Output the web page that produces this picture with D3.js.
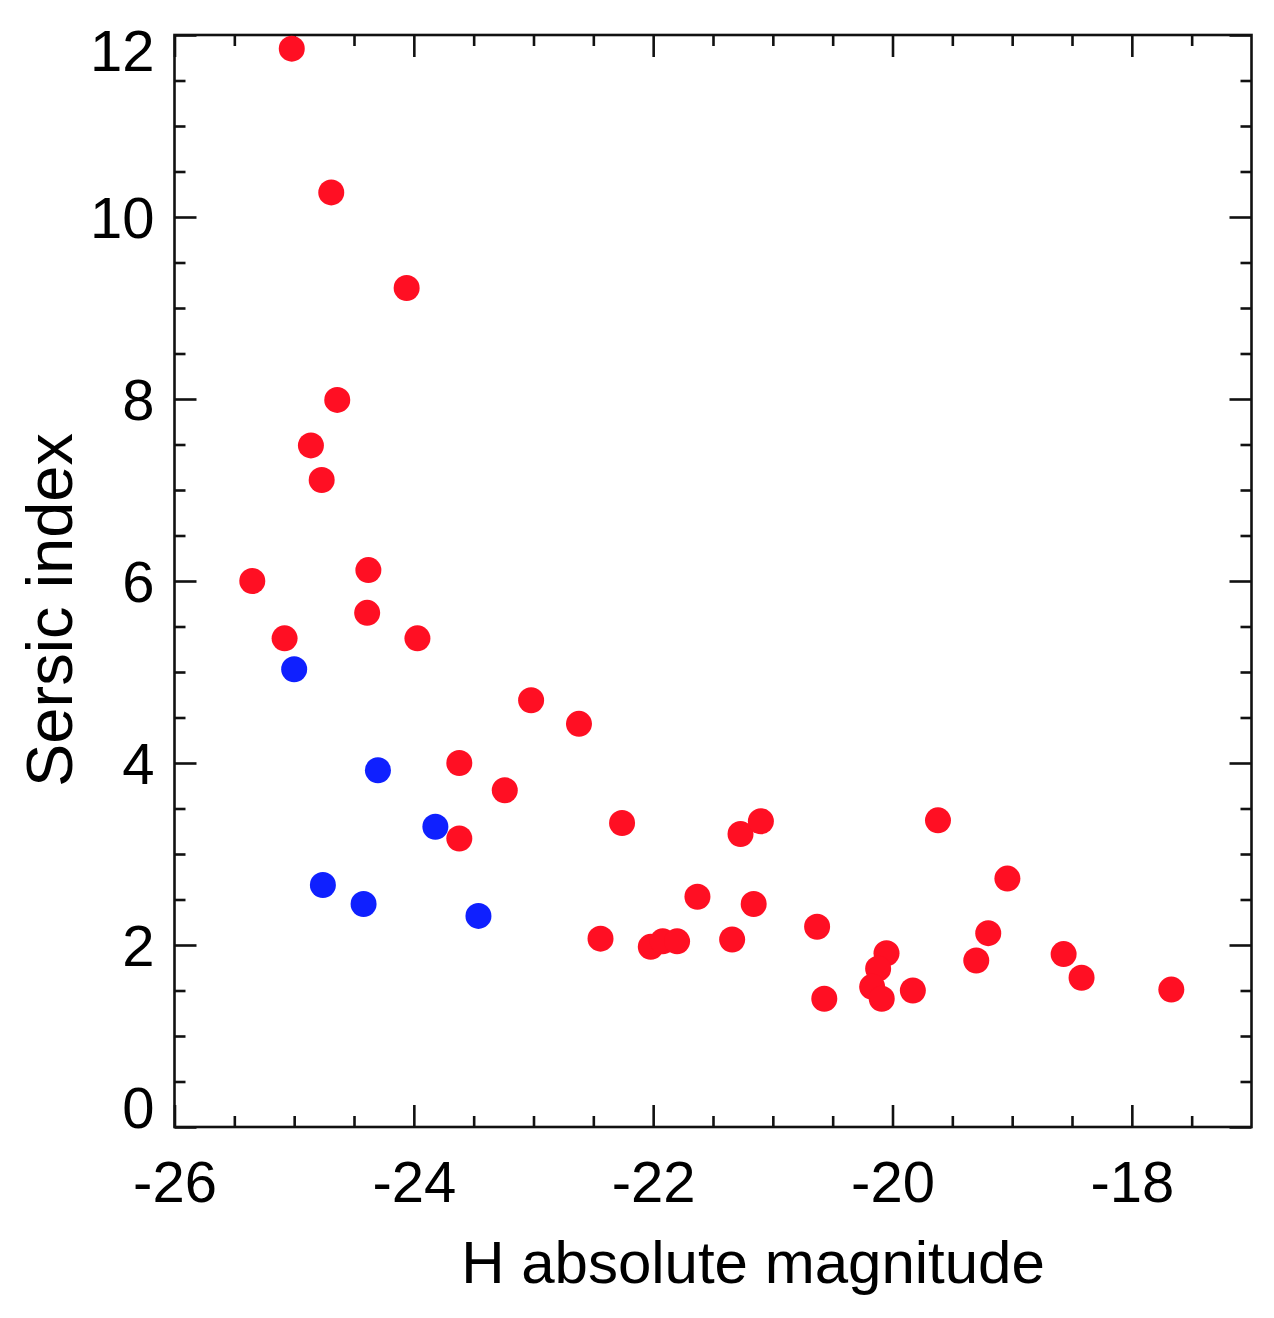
<!DOCTYPE html>
<html>
<head>
<meta charset="utf-8">
<script src="https://cdn.jsdelivr.net/npm/d3@7"></script>
<style>
  html, body { margin: 0; padding: 0; background: #fff; }
  text { font-family: "Liberation Sans", Arial, Helvetica, sans-serif; fill: #000; }
</style>
</head>
<body>
<div id="chart"></div>
<script>
'use strict';

// data
var redMag = [-25.02, -24.69, -24.06, -24.64, -24.86, -24.77, -25.35, -24.38, -24.39, -25.08,
  -23.97, -23.02, -22.62, -23.62, -23.24, -23.62, -22.26, -21.27, -21.10, -19.62,
  -19.04, -21.63, -21.16, -22.44, -22.02, -21.92, -21.80, -21.34, -20.63, -20.05,
  -20.12, -20.17, -20.09, -20.57, -19.83, -19.20, -19.30, -18.57, -18.42, -17.67];
var redSersic = [11.85, 10.27, 9.22, 7.99, 7.49, 7.11, 6.00, 6.12, 5.65, 5.37,
  5.37, 4.69, 4.43, 4.00, 3.70, 3.17, 3.34, 3.22, 3.36, 3.37,
  2.73, 2.53, 2.45, 2.07, 1.98, 2.04, 2.04, 2.06, 2.20, 1.91,
  1.74, 1.54, 1.41, 1.41, 1.50, 2.13, 1.83, 1.90, 1.64, 1.51];
var blueMag = [-25.00, -24.30, -23.82, -24.76, -24.42, -23.46];
var blueSersic = [5.03, 3.92, 3.30, 2.66, 2.45, 2.32];

var xMajor = [-26, -24, -22, -20, -18];
var xMinor = [-25.5, -25, -24.5, -23.5, -23, -22.5, -21.5, -21, -20.5, -19.5, -19, -18.5, -17.5];
var yMajor = [0, 2, 4, 6, 8, 10, 12];
var yMinor = [0.5, 1, 1.5, 2.5, 3, 3.5, 4.5, 5, 5.5, 6.5, 7, 7.5, 8.5, 9, 9.5, 10.5, 11, 11.5];

var svgWidth = 1274;
var svgHeight = 1318;
var plotLeft = 174.5, plotRight = 1251.5, plotTop = 35, plotBottom = 1127;
var red = '#ff0f23';
var blue = '#0f20ff';

var svg = d3.select('#chart').
  append('svg').
  attr('width', svgWidth).
  attr('height', svgHeight);

var x = d3.scaleLinear().domain([-26, -17]).range([plotLeft, plotRight]);
var y = d3.scaleLinear().domain([0, 12]).range([plotBottom, plotTop]);

// plain hyphen minus like the original plot
function plain (d) { return String(d); }

function styleAxis (g) {
  g.select('.domain').remove();
  g.selectAll('line').attr('stroke', '#111').attr('stroke-width', 2.6);
}

// bottom
svg.append('g').
  attr('transform', 'translate(0,' + plotBottom + ')').
  call(d3.axisBottom(x).tickValues(xMajor).tickSize(-22).tickPadding(34).tickFormat(plain)).
  call(styleAxis).
  selectAll('text').
  style('font-size', '58px');
svg.append('g').
  attr('transform', 'translate(0,' + plotBottom + ')').
  call(d3.axisBottom(x).tickValues(xMinor).tickSize(-11).tickFormat('')).
  call(styleAxis);

// top
svg.append('g').
  attr('transform', 'translate(0,' + plotTop + ')').
  call(d3.axisTop(x).tickValues(xMajor).tickSize(-22).tickFormat('')).
  call(styleAxis);
svg.append('g').
  attr('transform', 'translate(0,' + plotTop + ')').
  call(d3.axisTop(x).tickValues(xMinor).tickSize(-11).tickFormat('')).
  call(styleAxis);

// left
var yAxisG = svg.append('g').
  attr('transform', 'translate(' + plotLeft + ',0)').
  call(d3.axisLeft(y).tickValues(yMajor).tickSize(-22).tickPadding(20).tickFormat(plain)).
  call(styleAxis);
yAxisG.selectAll('text').
  style('font-size', '58px').
  attr('dy', function (d) {
    if (d === 12) { return '0.62em'; }
    if (d === 0) { return '0em'; }
    return '0.35em';
  });
svg.append('g').
  attr('transform', 'translate(' + plotLeft + ',0)').
  call(d3.axisLeft(y).tickValues(yMinor).tickSize(-11).tickFormat('')).
  call(styleAxis);

// right
svg.append('g').
  attr('transform', 'translate(' + plotRight + ',0)').
  call(d3.axisRight(y).tickValues(yMajor).tickSize(-22).tickFormat('')).
  call(styleAxis);
svg.append('g').
  attr('transform', 'translate(' + plotRight + ',0)').
  call(d3.axisRight(y).tickValues(yMinor).tickSize(-11).tickFormat('')).
  call(styleAxis);

// frame
svg.append('rect').
  attr('x', plotLeft).
  attr('y', plotTop).
  attr('width', plotRight - plotLeft).
  attr('height', plotBottom - plotTop).
  attr('fill', 'none').
  attr('stroke', '#111').
  attr('stroke-width', 2.6);

// points
svg.selectAll('circle.red').
  data(d3.zip(redMag, redSersic)).
  enter().
  append('circle').
  attr('class', 'red').
  attr('cx', function (d) { return x(d[0]); }).
  attr('cy', function (d) { return y(d[1]); }).
  attr('r', 13).
  attr('fill', red);

svg.selectAll('circle.blue').
  data(d3.zip(blueMag, blueSersic)).
  enter().
  append('circle').
  attr('class', 'blue').
  attr('cx', function (d) { return x(d[0]); }).
  attr('cy', function (d) { return y(d[1]); }).
  attr('r', 13).
  attr('fill', blue);

// titles
svg.append('text').
  attr('x', 753).
  attr('y', 1283).
  attr('text-anchor', 'middle').
  style('font-size', '60px').
  text('H absolute magnitude');

svg.append('text').
  attr('transform', 'translate(72,610) rotate(-90)').
  attr('text-anchor', 'middle').
  style('font-size', '65px').
  text('Sersic index');
</script>
</body>
</html>
